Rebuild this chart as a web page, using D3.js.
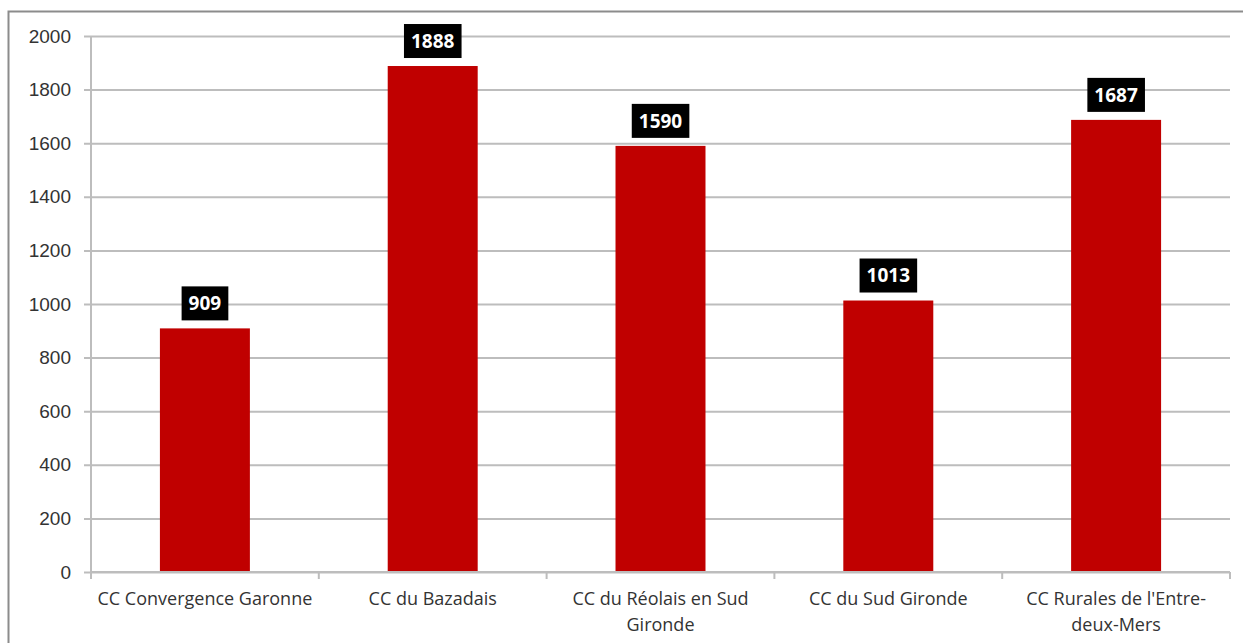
<!DOCTYPE html>
<html>
  <head>
    <meta charset="utf-8">
    <title>CC chart</title>
    <script src="https://d3js.org/d3.v7.min.js"></script>
    <style>
      body { margin: 0; background: #fff; }
      svg { font-family: "Open Sans", "Liberation Sans", sans-serif; }
      .tick text { fill: #333; }
    </style>
  </head>
  <body>
    <svg id="chart" width="1243" height="643"></svg>
    <script>
      // data
      categories = [
        ["CC Convergence Garonne"],
        ["CC du Bazadais"],
        ["CC du Réolais en Sud", "Gironde"],
        ["CC du Sud Gironde"],
        ["CC Rurales de l'Entre-", "deux-Mers"]
      ];
      values = [909, 1888, 1590, 1013, 1687];
      yTicks = [0, 200, 400, 600, 800, 1000, 1200, 1400, 1600, 1800, 2000];

      chart = d3.select("#chart");
      margin = { top: 36, right: 13, bottom: 71, left: 91 };
      width = 1243;
      height = 643;

      // frame
      chart.append("rect")
        .attr("x", 8.5).attr("y", 11.5)
        .attr("width", 1250).attr("height", 650)
        .attr("fill", "none")
        .attr("stroke", "#8c8c8c")
        .attr("stroke-width", 2);

      x = d3.scaleBand()
        .domain(d3.range(values.length))
        .range([margin.left, width - margin.right])
        .paddingInner(0.605)
        .paddingOuter(0.3025);
      band = d3.scaleBand()
        .domain(d3.range(values.length))
        .range([margin.left, width - margin.right]);
      y = d3.scaleLinear()
        .domain([0, 2000])
        .range([height - margin.bottom, margin.top]);

      // gridlines + y axis
      yAxis = d3.axisLeft(y)
        .tickValues(yTicks)
        .tickFormat(d3.format("d"))
        .tickSize(7)
        .tickPadding(13);
      yAxisGroup = chart.append("g")
        .attr("transform", "translate(" + margin.left + ",0)")
        .call(yAxis);
      yAxisGroup.select(".domain").remove();
      yAxisGroup.selectAll(".tick line")
        .attr("x1", -7).attr("x2", width - margin.right - margin.left)
        .attr("stroke", "#bdbdbd").attr("stroke-width", 2);
      yAxisGroup.selectAll(".tick text")
        .style("font-size", "19px");

      chart.append("line")
        .attr("x1", margin.left).attr("x2", margin.left)
        .attr("y1", margin.top).attr("y2", y(0) + 7)
        .attr("stroke", "#bdbdbd").attr("stroke-width", 2);

      // bars
      chart.selectAll(".bar")
        .data(values)
        .enter().append("rect")
          .classed("bar", true)
          .attr("x", function(d, i) { return x(i); })
          .attr("width", x.bandwidth())
          .attr("y", function(d) { return y(d); })
          .attr("height", function(d) { return y(0) - y(d); })
          .attr("fill", "#c00000");

      // x axis
      chart.append("line")
        .attr("x1", margin.left).attr("x2", width - margin.right)
        .attr("y1", y(0)).attr("y2", y(0))
        .attr("stroke", "#bdbdbd").attr("stroke-width", 2);
      chart.selectAll(".xtick")
        .data(d3.range(values.length + 1))
        .enter().append("line")
          .attr("x1", function(i) { return margin.left + i * band.bandwidth(); })
          .attr("x2", function(i) { return margin.left + i * band.bandwidth(); })
          .attr("y1", y(0)).attr("y2", y(0) + 7)
          .attr("stroke", "#bdbdbd").attr("stroke-width", 2);

      labels = chart.selectAll(".cat")
        .data(categories)
        .enter().append("text")
          .attr("text-anchor", "middle")
          .attr("fill", "#333")
          .style("font-size", "18px")
          .attr("transform", function(d, i) {
            return "translate(" + (band(i) + band.bandwidth() / 2) + "," + (y(0) + 33) + ")";
          });
      labels.selectAll("tspan")
        .data(function(d) { return d; })
        .enter().append("tspan")
          .attr("x", 0)
          .attr("y", function(d, i) { return i * 26; })
          .text(function(d) { return d; });

      // value labels
      valueGroups = chart.selectAll(".val")
        .data(values)
        .enter().append("g")
          .attr("transform", function(d, i) {
            return "translate(" + (x(i) + x.bandwidth() / 2) + "," + (y(d) - 25) + ")";
          });
      valueGroups.append("text")
        .attr("text-anchor", "middle")
        .attr("dy", "0.35em")
        .attr("fill", "#fff")
        .style("font-size", "19px")
        .style("font-weight", "bold")
        .text(function(d) { return d; })
        .each(function() {
          var b = this.getBBox();
          d3.select(this.parentNode).insert("rect", "text")
            .attr("x", b.x - 7).attr("width", b.width + 14)
            .attr("y", -17).attr("height", 34)
            .attr("fill", "#000");
        });
    </script>
  </body>
</html>
